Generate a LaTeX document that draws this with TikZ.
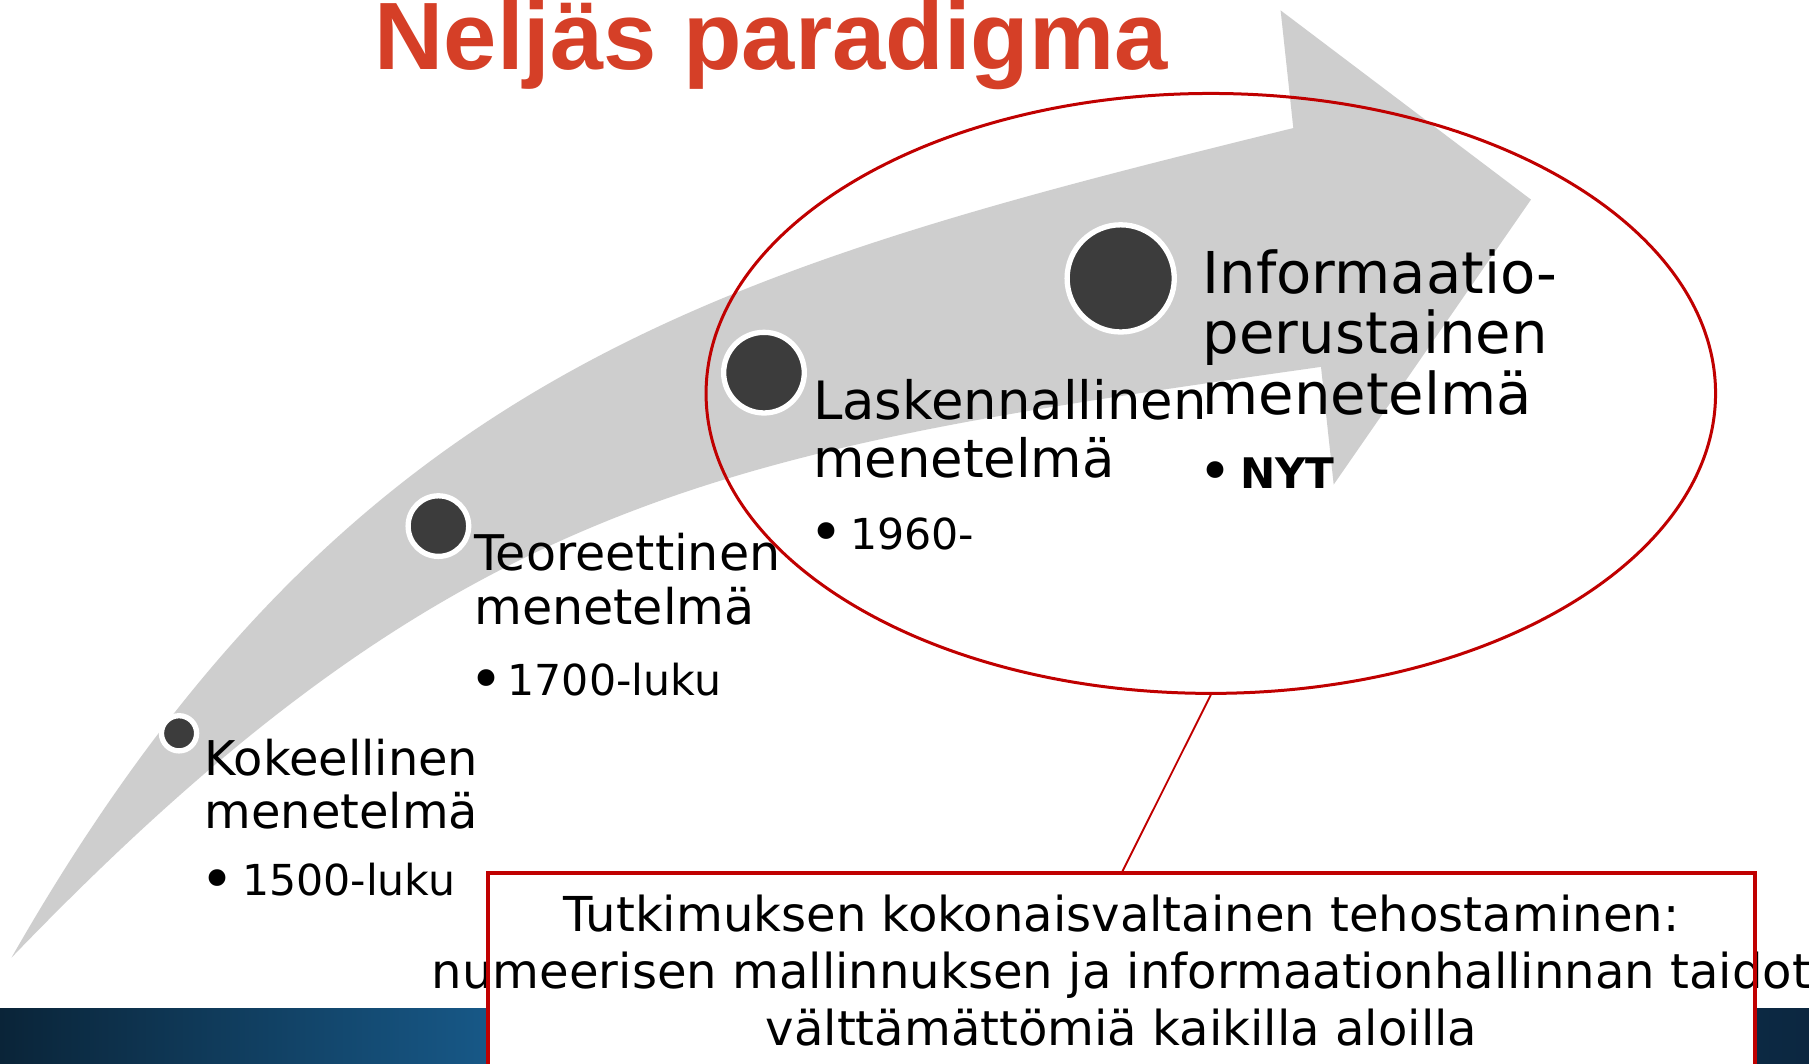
\documentclass[tikz,border=0pt]{standalone}
\usepackage{fontspec}
\setmainfont{DejaVu Sans}
\newfontfamily\titlefont{Liberation Sans}
\usetikzlibrary{shapes.geometric}
\definecolor{arrowgray}{HTML}{CECECE}
\definecolor{dotgray}{HTML}{3C3C3C}
\definecolor{titlered}{HTML}{D53F27}
\definecolor{ellred}{HTML}{C00000}
\definecolor{bandA}{HTML}{0A2438}
\definecolor{bandB}{HTML}{175887}
\definecolor{bandC}{HTML}{0C2740}
\newcommand\fsz[1]{\fontsize{#1}{#1}\selectfont}
\begin{document}
\begin{tikzpicture}[x=1pt,y=-1pt,
  lbl/.style={anchor=base west, inner sep=0, outer sep=0},
  ctr/.style={anchor=base, inner sep=0, outer sep=0},
  bulletmark/.style={anchor=base, inner sep=0, outer sep=0, font=\fsz{50}},
  dotnode/.style={circle, fill=dotgray, draw=white, line width=4.6, inner sep=0},
  redline/.style={draw=ellred}]
\useasboundingbox (0,0) rectangle (1568,922);
\fill[white] (0,0) rectangle (1568,922);
% bottom band
\shade[left color=bandA, right color=bandB] (0,874) rectangle (423,922);
\shade[left color=bandB, right color=bandC] (423,874) rectangle (1568,922);
% big curved arrow
\fill[arrowgray] (10,830) .. controls (300,322) and (621,234) .. (1121,111)
  -- (1110,9) -- (1327,173) -- (1156,420) -- (1145,318)
  .. controls (630,391) and (399,426) .. (10,830) -- cycle;
% dots
\node[dotnode, minimum size=30.5] (d1) at (155.2,635.6) {};
\node[dotnode, minimum size=52.5] (d2) at (380,456) {};
\node[dotnode, minimum size=69.9] (d3) at (662.2,323) {};
\node[dotnode, minimum size=92.9] (d4) at (971.4,241.3) {};
% labels 1
\node[lbl, font=\fsz{41.5}] (k1) at (177.6,672.6) {Kokeellinen};
\node[lbl, font=\fsz{41.5}] (k2) at (177.6,718) {menetelmä};
\node[bulletmark] (kb) at (188.2,779.3) {•};
\node[lbl, font=\fsz{37}] (k3) at (209.8,776.3) {1500-luku};
% labels 2
\node[lbl, font=\fsz{42.6}] (t1) at (411,494.6) {Teoreettinen};
\node[lbl, font=\fsz{42.6}] (t2) at (411,541.7) {menetelmä};
\node[bulletmark] (tb) at (421.8,606) {•};
\node[lbl, font=\fsz{37}] (t3) at (440,603) {1700-luku};
% labels 3
\node[lbl, font=\fsz{45.8}] (l1) at (704.8,363.5) {Laskennallinen};
\node[lbl, font=\fsz{45.8}] (l2) at (704.8,414) {menetelmä};
\node[bulletmark] (lb) at (716,478.9) {•};
\node[lbl, font=\fsz{37}] (l3) at (737,475.9) {1960-};
% labels 4
\node[lbl, font=\fsz{50}] (i1) at (1042.4,254.2) {Informaatio-};
\node[lbl, font=\fsz{50}] (i2) at (1042.4,306.3) {perustainen};
\node[lbl, font=\fsz{50}] (i3) at (1042.4,359.7) {menetelmä};
\node[bulletmark] (ib) at (1053.7,426.3) {•};
\node[lbl, font=\bfseries\fsz{36.5}] (i4) at (1075,423.3) {NYT};
% ellipse
\node[ellipse, redline, line width=2.6, minimum width=875, minimum height=520, inner sep=0] (ell) at (1049.5,341) {};
% box
\node[fill=white, minimum width=1098, minimum height=200, anchor=north, inner sep=0] (box) at (972,757) {};
\draw[redline, line width=1.6] (ell.south) -- (box.north);
\node[ctr, font=\fsz{41.7}] (b1) at (972,807.5) {Tutkimuksen kokonaisvaltainen tehostaminen:};
\node[ctr, font=\fsz{41.7}] (b2) at (972,856.7) {numeerisen mallinnuksen ja informaationhallinnan taidot};
\node[ctr, font=\fsz{41.7}] (b3) at (972,905.8) {välttämättömiä kaikilla aloilla};
\draw[redline, line width=3.6] (box.south west) rectangle (box.north east);
% title
\node[lbl, font=\titlefont\bfseries\fsz{83}, text=titlered] (title) at (324.8,60) {Neljäs paradigma};
\end{tikzpicture}
\end{document}
